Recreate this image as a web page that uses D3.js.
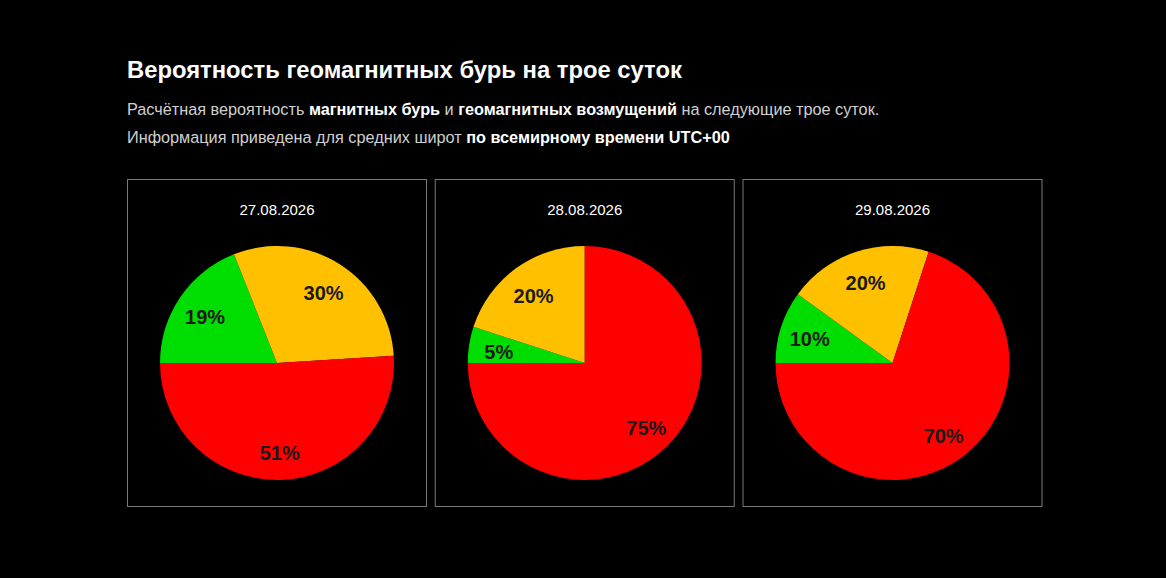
<!DOCTYPE html>
<html><head><meta charset="utf-8">
<script src="https://cdn.jsdelivr.net/npm/d3@7"></script>
<style>
html,body{margin:0;padding:0;background:#000;}
svg{display:block;}
</style></head>
<body>
<svg id="c" width="1166" height="578"></svg>
<script>
const dates = ["27.08.2026", "28.08.2026", "29.08.2026"];
const categories = ["Спокойно", "Возмущения", "Буря"];
const green = [19, 5, 10];
const yellow = [30, 20, 20];
const red = [51, 75, 70];
const colors = ["#00dd00", "#ffc000", "#ff0000"];

const svg = d3.select("#c");
const font = "'Liberation Sans', Arial, sans-serif";

svg.append("text").attr("x", 127).attr("y", 78)
  .attr("font-family", font).attr("font-size", 23.8).attr("font-weight", "bold")
  .attr("fill", "#fff").text("Вероятность геомагнитных бурь на трое суток");

const lines = [
  [["Расчётная вероятность ", false], ["магнитных бурь", true], [" и ", false], ["геомагнитных возмущений", true], [" на следующие трое суток.", false]],
  [["Информация приведена для средних широт ", false], ["по всемирному времени UTC+00", true]]
];
lines.forEach((ln, i) => {
  const t = svg.append("text").attr("x", 127).attr("y", 115 + i * 28)
    .attr("font-family", font).attr("font-size", 16.25).attr("xml:space", "preserve");
  ln.forEach(([s, b]) => {
    t.append("tspan").attr("font-weight", b ? "bold" : "normal")
      .attr("fill", b ? "#fff" : "#d0d0d0").text(s);
  });
});

const panelX = d3.scaleBand().domain(dates).range([127.5, 1042]).paddingInner(0.0285).paddingOuter(0);
const pie = d3.pie().sort(null).startAngle(-Math.PI / 2).endAngle(1.5 * Math.PI).value(d => d.v);
const R = 117;
const arc = d3.arc().innerRadius(0).outerRadius(R);
const labelArc = d3.arc().innerRadius(87).outerRadius(87);

dates.forEach((d, i) => {
  const x0 = panelX(d), w = panelX.bandwidth(), y0 = 179.5, h = 327;
  const g = svg.append("g");
  g.append("rect").attr("x", x0).attr("y", y0).attr("width", w).attr("height", h)
    .attr("fill", "none").attr("stroke", "#7a7a7a").attr("stroke-width", 1);
  g.append("text").attr("x", x0 + w / 2).attr("y", 215).attr("text-anchor", "middle")
    .attr("font-family", font).attr("font-size", 15).attr("fill", "#fff").text(d);
  const data = [
    {k: categories[0], v: green[i], c: colors[0]},
    {k: categories[1], v: yellow[i], c: colors[1]},
    {k: categories[2], v: red[i], c: colors[2]}
  ];
  const pg = g.append("g").attr("transform", `translate(${x0 + w / 2},363)`);
  const arcs = pie(data);
  pg.selectAll("path").data(arcs).join("path").attr("d", arc).attr("fill", a => a.data.c);
  pg.selectAll("text").data(arcs).join("text")
    .attr("transform", a => `translate(${labelArc.centroid(a)})`)
    .attr("text-anchor", "middle").attr("dy", "0.5em")
    .attr("font-family", font).attr("font-size", 20).attr("font-weight", "bold")
    .attr("fill", "#1a1a1a").text(a => a.data.v + "%");
});
</script>
</body></html>
